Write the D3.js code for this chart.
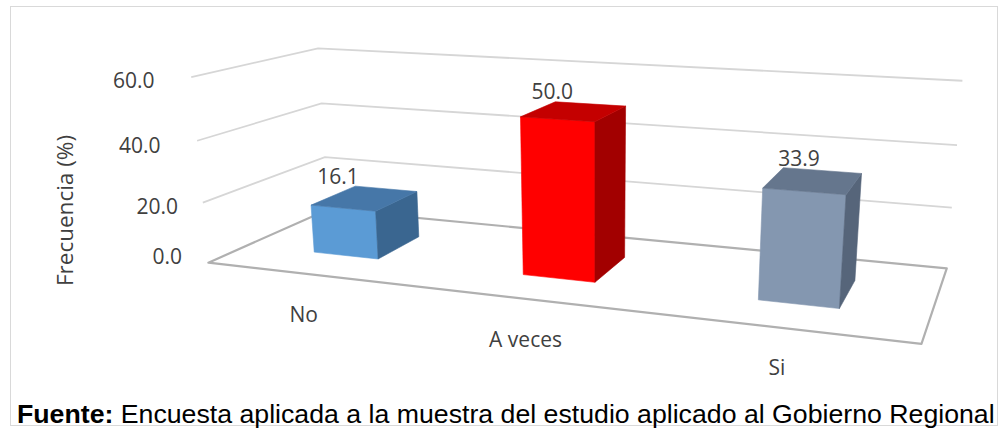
<!DOCTYPE html>
<html>
<head>
<meta charset="utf-8">
<script src="https://cdn.jsdelivr.net/npm/d3@7"></script>
<style>
  html, body { margin: 0; padding: 0; background: #fff; }
  svg { display: block; }
</style>
</head>
<body>
<svg id="chart" width="1004" height="428"></svg>
<script>
// ---- data ----
const categories = ["No", "A veces", "Si"];
const values = [16.1, 50.0, 33.9];
const valueLabels = ["16.1", "50.0", "33.9"];
const yTicks = [0, 20, 40, 60];
const tickLabels = ["0.0", "20.0", "40.0", "60.0"];
const frontColors = ["#5B9BD5", "#FF0000", "#8497B0"];
const topColors = ["#4677A8", "#C40000", "#65768D"];
const sideColors = ["#3A6690", "#A20000", "#56657A"];
const axisTitle = "Frecuencia (%)";
const sourceBold = "Fuente:";
const sourceText = " Encuesta aplicada a la muestra del estudio aplicado al Gobierno Regional";

// ---- scales (world units: x across, y up, z into the page, all 0..1) ----
const x = d3.scaleBand().domain(categories).range([0, 1]);
const y = d3.scaleLinear().domain([0, 60]).range([0, 1]);
const barHalf = x.bandwidth() * 0.159;
const zFront = 0.30, zBack = 0.69;

// ---- perspective camera fitted to the wall / floor frame ----
// screen position of the box edges at each tick level (0, 20, 40, 60)
const frameFrontLeft = [[208.3, 261.7], [202.7, 202.7], [196.7, 141.0], [191.7, 77.7]];
const frameBackLeft  = [[328.3, 210.7], [325.0, 156.7], [321.7, 102.7], [317.7, 48.3]];
const frameBackRight = [[946.7, 268.3], [951.7, 207.3], [956.7, 145.3], [962.7, 80.7]];
const frameFrontRightFloor = [921.7, 344.0];

// value-axis label placement relative to the front-left edge (dx to right edge, dy to centre)
const tickLabelOffset = [[-26.3, -5.9], [-24.7, 4.3], [-36.7, 4.5], [-36.7, 4.0]];

function fitCamera(pairs) {
  const n = 11;
  const M = Array.from({ length: n }, () => new Array(n + 1).fill(0));
  const addRow = (row, rhs) => {
    for (let i = 0; i < n; i++) {
      for (let j = 0; j < n; j++) M[i][j] += row[i] * row[j];
      M[i][n] += row[i] * rhs;
    }
  };
  pairs.forEach(([[X, Y, Z], [u, v]]) => {
    addRow([X, Y, Z, 1, 0, 0, 0, 0, -u * X, -u * Y, -u * Z], u);
    addRow([0, 0, 0, 0, X, Y, Z, 1, -v * X, -v * Y, -v * Z], v);
  });
  for (let c = 0; c < n; c++) {
    let p = c;
    for (let r = c + 1; r < n; r++) if (Math.abs(M[r][c]) > Math.abs(M[p][c])) p = r;
    [M[c], M[p]] = [M[p], M[c]];
    for (let r = 0; r < n; r++) {
      if (r === c) continue;
      const f = M[r][c] / M[c][c];
      for (let k = c; k <= n; k++) M[r][k] -= f * M[c][k];
    }
  }
  const P = M.map((row, i) => row[n] / row[i]);
  return (X, Y, Z) => {
    const w = P[8] * X + P[9] * Y + P[10] * Z + 1;
    return [(P[0] * X + P[1] * Y + P[2] * Z + P[3]) / w,
            (P[4] * X + P[5] * Y + P[6] * Z + P[7]) / w];
  };
}

const pairs = [];
yTicks.forEach((t, i) => {
  pairs.push([[0, y(t), 0], frameFrontLeft[i]]);
  pairs.push([[0, y(t), 1], frameBackLeft[i]]);
  pairs.push([[1, y(t), 1], frameBackRight[i]]);
});
pairs.push([[1, 0, 0], frameFrontRightFloor]);
const project = fitCamera(pairs);

const svg = d3.select("#chart");
const line = d3.line();
const FONT = "'Open Sans', sans-serif";

// outer chart border
svg.append("rect")
  .attr("x", 10.5).attr("y", 6.5).attr("width", 987).attr("height", 419)
  .attr("fill", "#fff").attr("stroke", "#d9d9d9").attr("stroke-width", 1);

// gridlines on left and back walls
svg.append("g").selectAll("path")
  .data(yTicks.filter(t => t > 0))
  .join("path")
  .attr("d", t => line([project(0, y(t), 0), project(0, y(t), 1), project(1, y(t), 1)]))
  .attr("fill", "none")
  .attr("stroke", "#d6d6d6")
  .attr("stroke-width", 1.8);

// floor outline
svg.append("path")
  .attr("d", line([project(0, 0, 0), project(0, 0, 1), project(1, 0, 1), project(1, 0, 0)]) + "Z")
  .attr("fill", "none")
  .attr("stroke", "#b0b0b0")
  .attr("stroke-width", 2.2)
  .attr("stroke-linejoin", "round");

// value axis labels
svg.append("g").selectAll("text")
  .data(yTicks)
  .join("text")
  .attr("x", (t, i) => project(0, y(t), 0)[0] + tickLabelOffset[i][0])
  .attr("y", (t, i) => project(0, y(t), 0)[1] + tickLabelOffset[i][1])
  .attr("dy", "0.35em")
  .attr("text-anchor", "end")
  .attr("font-family", FONT).attr("font-size", 21)
  .attr("fill", "#404040")
  .text((t, i) => tickLabels[i]);

// axis title
svg.append("text")
  .attr("transform", "translate(65,210.5) rotate(-90)")
  .attr("dy", "0.35em")
  .attr("text-anchor", "middle")
  .attr("font-family", FONT).attr("font-size", 22.5)
  .attr("fill", "#404040")
  .text(axisTitle);

// 3D bars: six faces each, back faces culled
function faces(x0, x1, h, z0, z1) {
  return [
    { kind: "front", pts: [[x0, 0, z0], [x1, 0, z0], [x1, h, z0], [x0, h, z0]] },
    { kind: "back",  pts: [[x1, 0, z1], [x0, 0, z1], [x0, h, z1], [x1, h, z1]] },
    { kind: "side",  pts: [[x1, 0, z0], [x1, 0, z1], [x1, h, z1], [x1, h, z0]] },
    { kind: "side",  pts: [[x0, 0, z1], [x0, 0, z0], [x0, h, z0], [x0, h, z1]] },
    { kind: "top",   pts: [[x0, h, z0], [x1, h, z0], [x1, h, z1], [x0, h, z1]] },
    { kind: "bottom",pts: [[x1, 0, z0], [x0, 0, z0], [x0, 0, z1], [x1, 0, z1]] }
  ].map(f => ({ kind: f.kind, scr: f.pts.map(p => project(...p)) }));
}
const signedArea = pts => d3.polygonArea(pts);

const barG = svg.append("g");
categories.forEach((c, i) => {
  const xc = x(c) + x.bandwidth() / 2;
  const fs = faces(xc - barHalf, xc + barHalf, y(values[i]), zFront, zBack);
  const frontSign = Math.sign(signedArea(fs[0].scr));
  const fill = { front: frontColors[i], top: topColors[i], side: sideColors[i], back: sideColors[i], bottom: sideColors[i] };
  fs.filter(f => Math.sign(signedArea(f.scr)) === frontSign)
    .forEach(f => {
      barG.append("path")
        .attr("d", line(f.scr) + "Z")
        .attr("fill", fill[f.kind])
        .attr("stroke", fill[f.kind])
        .attr("stroke-width", 0.6)
        .attr("stroke-linejoin", "round");
    });
});

// data labels
svg.append("g").selectAll("text")
  .data(categories)
  .join("text")
  .attr("x", (c, i) => project(x(c) + x.bandwidth() / 2, y(values[i]), zFront)[0] - 5)
  .attr("y", (c, i) => project(x(c) + x.bandwidth() / 2, y(values[i]), zBack)[1] - 5)
  .attr("text-anchor", "middle")
  .attr("font-family", FONT).attr("font-size", 21)
  .attr("fill", "#404040")
  .text((c, i) => valueLabels[i]);

// category labels
svg.append("g").selectAll("text")
  .data(categories)
  .join("text")
  .attr("x", c => project(x(c) + x.bandwidth() / 2, 0, 0)[0] - 6)
  .attr("y", c => project(x(c) + x.bandwidth() / 2, 0, 0)[1] + 40)
  .attr("dy", "0.35em")
  .attr("text-anchor", "middle")
  .attr("font-family", FONT).attr("font-size", 21)
  .attr("fill", "#404040")
  .text(c => c);

// source note
const note = svg.append("text")
  .attr("x", 17).attr("y", 423)
  .attr("font-family", "'Liberation Sans', Arial, sans-serif")
  .attr("font-size", 26.7)
  .attr("fill", "#000");
note.append("tspan").attr("font-weight", "bold").text(sourceBold);
note.append("tspan").text(sourceText);
</script>
</body>
</html>
